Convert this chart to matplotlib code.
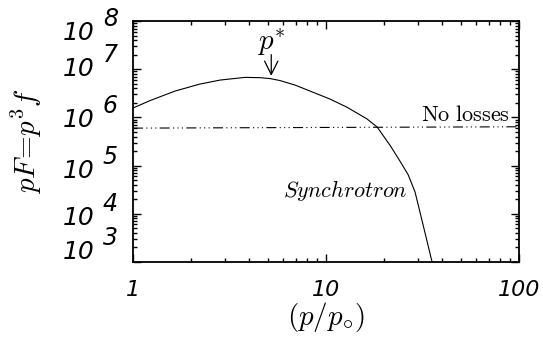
import numpy as np
import matplotlib.pyplot as plt
import matplotlib.transforms as mtransforms
from matplotlib.ticker import LogLocator, NullFormatter, FixedLocator, FixedFormatter

plt.rcParams['mathtext.fontset'] = 'cm'

# %% Data
# spectrum with synchrotron losses
p_sync = [1.0, 1.225, 1.65, 2.218, 2.823, 3.80, 4.55, 5.13, 5.78, 6.91, 8.26,
          10.47, 12.8, 16.3, 18.4, 21.5, 24.2, 26.6, 28.9, 31.8, 35.4, 36.5]
F_sync = [1.57e6, 2.24e6, 3.53e6, 4.93e6, 5.97e6, 6.79e6, 6.70e6, 6.41e6,
          5.83e6, 4.70e6, 3.53e6, 2.41e6, 1.64e6, 9.3e5, 6.3e5, 2.6e5,
          1.22e5, 6.5e4, 2.83e4, 5.9e3, 1.0e3, 5.0e2]

# spectrum without losses
p_noloss = [1.0, 100.0]
F_noloss = [6.0e5, 6.4e5]

x_ticks = [1, 10, 100]
x_ticklabels = ['1', '10', '100']
y_exponents = [3, 4, 5, 6, 7, 8]

# p* marker
p_star = 5.2
F_star_tip = 6.4e6
F_star_tail = 2.3e7

# %% Figure
fig = plt.figure(figsize=(5.43, 3.41), dpi=100)
ax = fig.add_axes([0.245, 0.232, 0.711, 0.706])

ax.plot(p_sync, F_sync, color='black', lw=0.8)
ax.plot(p_noloss, F_noloss, color='black', lw=0.8,
        linestyle=(0, (9, 3, 1, 3, 1, 3, 1, 3)))

ax.set_xscale('log')
ax.set_yscale('log')
ax.set_xlim(1, 100)
ax.set_ylim(1e3, 1e8)

for s in ax.spines.values():
    s.set_linewidth(1.3)

ax.xaxis.set_major_locator(FixedLocator(x_ticks))
ax.xaxis.set_major_formatter(FixedFormatter(x_ticklabels))
ax.xaxis.set_minor_locator(LogLocator(base=10, subs=np.arange(2, 10)))
ax.xaxis.set_minor_formatter(NullFormatter())
ax.yaxis.set_major_locator(FixedLocator([10.0**e for e in y_exponents]))
ax.yaxis.set_minor_locator(LogLocator(base=10, subs=np.arange(2, 10), numticks=20))
ax.yaxis.set_minor_formatter(NullFormatter())

ax.tick_params(which='both', direction='in', top=True, right=True, width=1.0)
ax.tick_params(which='major', length=6)
ax.tick_params(which='minor', length=3)
ax.tick_params(axis='y', labelleft=False)
ax.tick_params(axis='x', pad=13, labelsize=16)
for lab in ax.get_xticklabels():
    lab.set_fontstyle('italic')

# y tick labels drawn as 10 + exponent, IDL style
ylab_dy = [-10, 4, 5, 3, 0, 12]   # pixel shift down
ytrans = mtransforms.blended_transform_factory(ax.transAxes, ax.transData)
for e, dy in zip(y_exponents, ylab_dy):
    off = mtransforms.ScaledTranslation(0, -dy / 100, fig.dpi_scale_trans)
    ax.text(-0.101, 10.0**e, '10', transform=ytrans + off, ha='right',
            va='center', fontsize=18, style='italic', clip_on=False)
    off2 = mtransforms.ScaledTranslation(0, (14 - dy) / 100, fig.dpi_scale_trans)
    ax.text(-0.078, 10.0**e, str(e), transform=ytrans + off2, ha='left',
            va='center', fontsize=17, style='italic', clip_on=False)

ax.set_xlabel(r'$(p/p_{\circ})$', fontsize=21, labelpad=0)
ax.set_ylabel(r'$pF\!=\!p^3f$', fontsize=21, labelpad=61)

ax.annotate('', xy=(p_star, F_star_tip), xytext=(p_star, F_star_tail),
            arrowprops=dict(arrowstyle='->', color='black', lw=0.9,
                            mutation_scale=24))
ax.text(p_star, 3.6e7, r'$p^{*}$', fontsize=21, ha='center', va='center')
ax.text(0.975, 6.9e5, r'$\mathrm{No\ losses}$', transform=ytrans,
        ha='right', va='bottom', fontsize=16)
ax.text(12.5, 3.1e4, r'$\mathit{Synchrotron}$', ha='center', va='center',
        fontsize=16)

fig.savefig('out.png', dpi=100)
